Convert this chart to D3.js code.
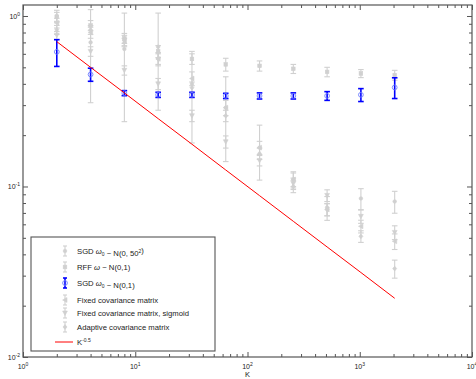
<!DOCTYPE html>
<html>
<head>
<meta charset="utf-8">
<script src="https://cdn.jsdelivr.net/npm/d3@7"></script>
<style>
body{margin:0;background:#fff;}
svg text{font-family:"Liberation Sans",Arial,sans-serif;fill:#222;}
</style>
</head>
<body>
<div id="canvas"></div>
<script>
// data
var Ks = [2,4,8,16,32,64,128,256,512,1024,2048];

var sgd50Val = [1.0,0.70,0.64,0.66,0.40,0.29,0.169,0.110,0.0753,0.0851,0.0817];
var sgd50Err = [0.08,0.39,0.40,0.38,0.22,0.15,0.06,0.012,0.012,0.012,0.012];

var rffVal = [0.99,0.88,0.74,0.62,0.56,0.52,0.51,0.49,0.47,0.46,0.45];
var rffErr = [0.06,0.06,0.05,0.05,0.04,0.045,0.035,0.03,0.03,0.025,0.03];

var sgd1Val = [0.616,0.454,0.353,0.345,0.345,0.34,0.34,0.34,0.34,0.345,0.381];
var sgd1Err = [0.11,0.04,0.012,0.012,0.012,0.012,0.014,0.014,0.02,0.03,0.053];

var fixedVal = [0.91,0.80,0.72,0.56,0.43,0.29,0.169,0.110,0.0733,0.0584,0.0477];
var fixedErr = [0.06,0.06,0.05,0.05,0.04,0.03,0.015,0.01,0.006,0.005,0.005];

var sigmVal = [0.77,0.62,0.48,0.40,0.26,0.183,0.142,0.104,0.0886,0.0668,0.0538];
var sigmErr = [0.04,0.04,0.03,0.03,0.02,0.015,0.01,0.008,0.007,0.006,0.005];

var adaptVal = [0.83,0.83,0.70,0.56,0.38,0.26,0.156,0.100,0.0733,0.051,0.033];
var adaptErr = [0.05,0.05,0.04,0.04,0.03,0.02,0.012,0.008,0.006,0.004,0.004];

var refVal = [0.707,0.5,0.354,0.25,0.177,0.125,0.0884,0.0625,0.0442,0.0313,0.0221];

var xTickExp = [0,1,2,3,4];
var yTickExp = [-2,-1,0];

var W = 476, H = 379;
var m = {t:5,r:4,b:22,l:23};

var svg = d3.select('#canvas').append('svg')
    .attr('width',W).attr('height',H);

var x = d3.scaleLog().domain([1,10000]).range([m.l,W-m.r]);
var y = d3.scaleLog().domain([0.01,1.16]).range([H-m.b,m.t]);

var gray = '#d0d0d0';
var series = [
  {name:'sgd50',val:sgd50Val,err:sgd50Err,color:gray,mk:'dot'},
  {name:'rff',val:rffVal,err:rffErr,color:gray,mk:'square'},
  {name:'fixed',val:fixedVal,err:fixedErr,color:gray,mk:'tleft'},
  {name:'sigm',val:sigmVal,err:sigmErr,color:gray,mk:'tdown'},
  {name:'adapt',val:adaptVal,err:adaptErr,color:gray,mk:'diamond'},
  {name:'sgd1',val:sgd1Val,err:sgd1Err,color:'#0000ff',mk:'circle'}
];

function marker(g,type,cx,cy,color){
  var s = 1.8;
  if(type=='circle'){
    g.append('circle').attr('cx',cx).attr('cy',cy).attr('r',2.4)
      .attr('fill','none').attr('stroke','#7080ff').attr('stroke-width',0.9);
  } else if(type=='dot'){
    g.append('circle').attr('cx',cx).attr('cy',cy).attr('r',1.8)
      .attr('fill',color).attr('stroke',color).attr('stroke-width',0.6);
  } else if(type=='square'){
    g.append('rect').attr('x',cx-s).attr('y',cy-s).attr('width',2*s).attr('height',2*s)
      .attr('fill',color).attr('stroke',color).attr('stroke-width',0.6);
  } else {
    var pts;
    if(type=='tleft') pts = [[cx-2.4,cy],[cx+2,cy-2.4],[cx+2,cy+2.4]];
    if(type=='tdown') pts = [[cx-2.4,cy-2],[cx+2.4,cy-2],[cx,cy+2.4]];
    if(type=='diamond') pts = [[cx,cy-2.4],[cx+2,cy],[cx,cy+2.4],[cx-2,cy]];
    g.append('path').attr('d',d3.line()(pts)+'Z')
      .attr('fill',color).attr('stroke',color).attr('stroke-width',0.6);
  }
}

function errbar(g,cx,v,e,color,sw){
  var y0 = y(Math.max(v-e,0.005)), y1 = y(v+e), c = 2.8;
  g.append('line').attr('x1',cx).attr('x2',cx).attr('y1',y0).attr('y2',y1)
    .attr('stroke',color).attr('stroke-width',sw);
  [y0,y1].forEach(function(yy){
    g.append('line').attr('x1',cx-c).attr('x2',cx+c).attr('y1',yy).attr('y2',yy)
      .attr('stroke',color).attr('stroke-width',sw);
  });
}

var plot = svg.append('g');
series.forEach(function(s){
  var g = plot.append('g').attr('class',s.name);
  Ks.forEach(function(k,i){
    var cx = x(k);
    errbar(g,cx,s.val[i],s.err[i],s.color,s.name=='sgd1'?1.6:1.1);
    marker(g,s.mk,cx,y(s.val[i]),s.color);
  });
});

// reference line K^-0.5
plot.append('path')
  .datum(Ks.map(function(k,i){return [k,refVal[i]];}))
  .attr('fill','none').attr('stroke','#ff0000').attr('stroke-width',1)
  .attr('d',d3.line().x(function(d){return x(d[0]);}).y(function(d){return y(d[1]);}));

// axes: box with inward ticks
var xMajor = xTickExp.map(function(e){return Math.pow(10,e);});
var yMajor = yTickExp.map(function(e){return Math.pow(10,e);});
var xMinor = [], yMinor = [];
[0,1,2,3].forEach(function(e){ for(var j=2;j<10;j++) xMinor.push(j*Math.pow(10,e)); });
[-2,-1].forEach(function(e){ for(var j=2;j<10;j++) yMinor.push(j*Math.pow(10,e)); });

var axCol = '#555';
function addAxis(axis,tx,ty){
  var g = svg.append('g').attr('transform','translate('+tx+','+ty+')').call(axis);
  g.selectAll('text').remove();
  g.selectAll('line').attr('stroke',axCol);
  g.select('.domain').remove();
  return g;
}
var bottom = H-m.b, right = W-m.r;
addAxis(d3.axisBottom(x).tickValues(xMajor).tickSize(-5),0,bottom);
addAxis(d3.axisBottom(x).tickValues(xMinor).tickSize(-3),0,bottom);
addAxis(d3.axisTop(x).tickValues(xMajor).tickSize(-5),0,m.t);
addAxis(d3.axisTop(x).tickValues(xMinor).tickSize(-3),0,m.t);
addAxis(d3.axisLeft(y).tickValues(yMajor).tickSize(-5),m.l,0);
addAxis(d3.axisLeft(y).tickValues(yMinor).tickSize(-3),m.l,0);
addAxis(d3.axisRight(y).tickValues(yMajor).tickSize(-5),right,0);
addAxis(d3.axisRight(y).tickValues(yMinor).tickSize(-3),right,0);

svg.append('rect').attr('x',m.l).attr('y',m.t)
  .attr('width',right-m.l).attr('height',bottom-m.t)
  .attr('fill','none').attr('stroke',axCol).attr('stroke-width',1.2);

// tick labels
xTickExp.forEach(function(e){
  var t = svg.append('text').attr('x',x(Math.pow(10,e))).attr('y',bottom+12)
    .attr('text-anchor','middle').style('font-size','7px');
  t.append('tspan').text('10');
  t.append('tspan').attr('dy',-3).style('font-size','5px').text(e);
});
yTickExp.forEach(function(e){
  var t = svg.append('text').attr('x',m.l-3).attr('y',y(Math.pow(10,e))+3)
    .attr('text-anchor','end').style('font-size','7px');
  t.append('tspan').text('10');
  t.append('tspan').attr('dy',-3).style('font-size','5px').text(e);
});
svg.append('text').attr('x',x(100)).attr('y',H-2).attr('text-anchor','middle')
  .style('font-size','7.5px').text('K');

// legend
var lg = svg.append('g');
lg.append('rect').attr('x',31).attr('y',237).attr('width',184).attr('height',114)
  .attr('fill','#fff').attr('stroke',axCol).attr('stroke-width',1.1);

var legendItems = [
  {s:series[0],txt:[['SGD '],['ω','sub','0'],[' ~ N(0, 50'],['2','sup'],[')']]},
  {s:series[1],txt:[['RFF '],['ω'],[' ~ N(0,1)']]},
  {s:series[5],txt:[['SGD '],['ω','sub','0'],[' ~ N(0,1)']]},
  {s:series[2],txt:[['Fixed covariance matrix']]},
  {s:series[3],txt:[['Fixed covariance matrix, sigmoid']]},
  {s:series[4],txt:[['Adaptive covariance matrix']]},
  {s:null,txt:[['K'],['-0.5','sup']]}
];
var ly = [251,267,283,300,313,327,342];
legendItems.forEach(function(it,i){
  var yy = ly[i], sx = 65;
  if(it.s){
    var g = lg.append('g');
    var sw = it.s.name=='sgd1'?1.6:1.1;
    g.append('line').attr('x1',sx).attr('x2',sx).attr('y1',yy-5).attr('y2',yy+5)
      .attr('stroke',it.s.color).attr('stroke-width',sw);
    [yy-5,yy+5].forEach(function(q){
      g.append('line').attr('x1',sx-2).attr('x2',sx+2).attr('y1',q).attr('y2',q)
        .attr('stroke',it.s.color).attr('stroke-width',sw);
    });
    marker(g,it.s.mk,sx,yy,it.s.color);
  } else {
    lg.append('line').attr('x1',55).attr('x2',73).attr('y1',yy).attr('y2',yy)
      .attr('stroke','#ff0000').attr('stroke-width',1);
  }
  var t = lg.append('text').attr('x',77).attr('y',yy+2.5).style('font-size','7.7px');
  it.txt.forEach(function(p){
    if(p[1]=='sub'){
      t.append('tspan').style('font-style','italic').text(p[0]);
      t.append('tspan').attr('dy',2).style('font-size','5px').text(p[2]);
      t.append('tspan').attr('dy',-2).text('');
    } else if(p[1]=='sup'){
      t.append('tspan').attr('dy',-3).style('font-size','5px').text(p[0]);
      t.append('tspan').attr('dy',3).text('');
    } else if(p[0]=='ω'){
      t.append('tspan').style('font-style','italic').text(p[0]);
    } else {
      t.append('tspan').text(p[0]);
    }
  });
});
</script>
</body>
</html>
